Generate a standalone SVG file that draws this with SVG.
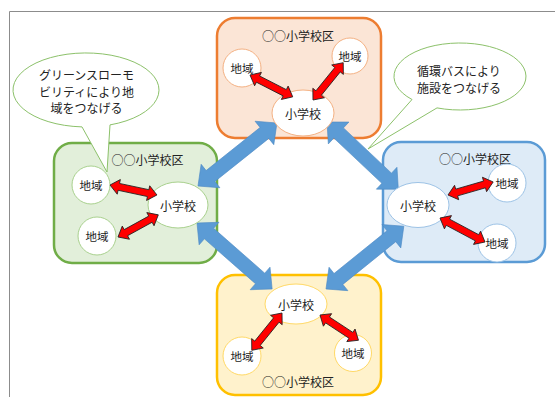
<svg xmlns="http://www.w3.org/2000/svg" width="555" height="397" viewBox="0 0 555 397">
<style>
text{font-family:"Noto Sans CJK JP","Noto Sans CJK SC",sans-serif;fill:#222;text-anchor:middle;dominant-baseline:central;font-size:12px}
.area{font-size:11.5px}
.box{stroke-width:2.5}
.blue{fill:#5b9bd5;stroke:#4f8bc4;stroke-width:0.6}
.red{fill:#ff0000;stroke:#222;stroke-width:0.8;stroke-linejoin:miter}
.callout{fill:#fff;stroke:#8cc16a;stroke-width:1}
.frame{stroke:#8c8c8c;stroke-width:1;fill:none}
</style>
<rect width="555" height="397" fill="#fff"/>
<path class="frame" d="M9.5,397 V11.5 H555"/>

<g id="district-orange">
<rect class="box" x="217" y="18" width="164" height="120" rx="18" fill="#fbe5d6" stroke="#ed7d31"/>
<text x="298" y="35.5">○○小学校区</text>
</g>
<g id="district-green">
<rect class="box" x="54" y="143" width="163" height="120" rx="18" fill="#e2efda" stroke="#70ad47"/>
<text x="147.5" y="159.5">○○小学校区</text>
</g>
<g id="district-blue">
<rect class="box" x="383" y="142" width="162" height="120" rx="18" fill="#deebf7" stroke="#5b9bd5"/>
<text x="475" y="158">○○小学校区</text>
</g>
<g id="district-yellow">
<rect class="box" x="217" y="275" width="164" height="120" rx="18" fill="#fff2cc" stroke="#ffc000"/>
<text x="298" y="381">○○小学校区</text>
</g>

<g id="callout-left">
<path class="callout" d="M110,124.9 A73,37 0 1 0 82,126.9 L107,172 Z"/>
<text x="86.5" y="74">グリーンスローモ</text>
<text x="86.5" y="91">ビリティにより地</text>
<text x="86.5" y="107.5">域をつなげる</text>
</g>
<g id="callout-right">
<path class="callout" d="M412,99.5 L368,149 L437,107.9 A66,33.5 0 1 0 412,99.5 Z"/>
<text x="459" y="70.5">循環バスにより</text>
<text x="459" y="87">施設をつなげる</text>
</g>

<g id="connectors-blue">
<polygon class="blue" points="0,0 16,-15 16,-7 85,-7 85,-15 101,0 85,15 85,7 16,7 16,15" transform="translate(198,186) rotate(-38.6)"/>
<polygon class="blue" points="0,0 16,-15 16,-7 82,-7 82,-15 98,0 82,15 82,7 16,7 16,15" transform="translate(327,122) rotate(43.3)"/>
<polygon class="blue" points="0,0 16,-15 16,-7 84,-7 84,-15 100,0 84,15 84,7 16,7 16,15" transform="translate(197,223) rotate(41.3)"/>
<polygon class="blue" points="0,0 16,-15 16,-7 84,-7 84,-15 100,0 84,15 84,7 16,7 16,15" transform="translate(326,289) rotate(-38.9)"/>
</g>

<g id="orange-school"><ellipse cx="303" cy="113" rx="31" ry="23" fill="#fff" stroke="#f4b183"/><text x="303" y="113">小学校</text></g>
<g id="orange-area1"><circle cx="242" cy="68" r="19" fill="#fff" stroke="#f4b183"/><text class="area" x="242" y="68">地域</text></g>
<g id="orange-area2"><circle cx="350" cy="56" r="18" fill="#fff" stroke="#f4b183"/><text class="area" x="350" y="56">地域</text></g>

<g id="green-school"><ellipse cx="178" cy="205" rx="30" ry="23" fill="#fff" stroke="#a9d18e"/><text x="178" y="205">小学校</text></g>
<g id="green-area1"><circle cx="91" cy="185" r="19" fill="#fff" stroke="#a9d18e"/><text class="area" x="91" y="185">地域</text></g>
<g id="green-area2"><circle cx="97" cy="236" r="19" fill="#fff" stroke="#a9d18e"/><text class="area" x="97" y="236">地域</text></g>

<g id="blue-school"><ellipse cx="418" cy="205" rx="31" ry="22.5" fill="#fff" stroke="#9dc3e6"/><text x="418" y="205">小学校</text></g>
<g id="blue-area1"><circle cx="507" cy="183" r="19" fill="#fff" stroke="#9dc3e6"/><text class="area" x="507" y="183">地域</text></g>
<g id="blue-area2"><circle cx="497" cy="243" r="19" fill="#fff" stroke="#9dc3e6"/><text class="area" x="497" y="243">地域</text></g>

<g id="yellow-school"><ellipse cx="296" cy="304" rx="31" ry="20" fill="#fff" stroke="#ffd966"/><text x="296" y="304">小学校</text></g>
<g id="yellow-area1"><circle cx="242" cy="356" r="19" fill="#fff" stroke="#ffd966"/><text class="area" x="242" y="356">地域</text></g>
<g id="yellow-area2"><circle cx="353" cy="353" r="18.5" fill="#fff" stroke="#ffd966"/><text class="area" x="353" y="353">地域</text></g>

<g id="connectors-red">
<polygon class="red" points="0,0 9,-7.5 9,-3.5 39,-3.5 39,-7.5 48,0 39,7.5 39,3.5 9,3.5 9,7.5" transform="translate(250,75) rotate(27.1)"/>
<polygon class="red" points="0,0 9,-7.5 9,-3.5 39,-3.5 39,-7.5 48,0 39,7.5 39,3.5 9,3.5 9,7.5" transform="translate(313,100) rotate(-51)"/>
<polygon class="red" points="0,0 9,-7.5 9,-3.5 39,-3.5 39,-7.5 48,0 39,7.5 39,3.5 9,3.5 9,7.5" transform="translate(110,185) rotate(12)"/>
<polygon class="red" points="0,0 9,-7.5 9,-3.5 37,-3.5 37,-7.5 46,0 37,7.5 37,3.5 9,3.5 9,7.5" transform="translate(118,237) rotate(-28.8)"/>
<polygon class="red" points="0,0 9,-7.5 9,-3.5 38,-3.5 38,-7.5 47,0 38,7.5 38,3.5 9,3.5 9,7.5" transform="translate(448,195) rotate(-16.1)"/>
<polygon class="red" points="0,0 9,-7.5 9,-3.5 42,-3.5 42,-7.5 51,0 42,7.5 42,3.5 9,3.5 9,7.5" transform="translate(440,218) rotate(28.1)"/>
<polygon class="red" points="0,0 9,-7.5 9,-3.5 39,-3.5 39,-7.5 48,0 39,7.5 39,3.5 9,3.5 9,7.5" transform="translate(282,313) rotate(129)"/>
<polygon class="red" points="0,0 9,-7.5 9,-3.5 37,-3.5 37,-7.5 46,0 37,7.5 37,3.5 9,3.5 9,7.5" transform="translate(320,315) rotate(33.3)"/>
</g>
</svg>
